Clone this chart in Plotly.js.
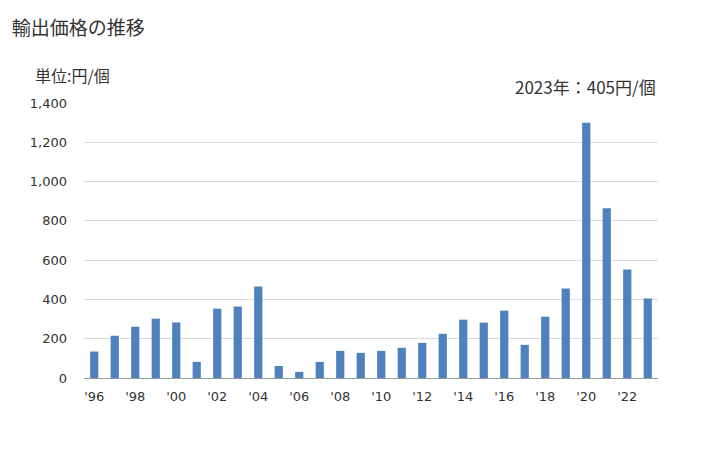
<!DOCTYPE html>
<html>
<head>
<meta charset="utf-8">
<script src="https://cdn.plot.ly/plotly-3.0.1.min.js"></script>
<style>body{margin:0;padding:0;background:#fff}#chart{width:728px;height:450px}</style>
</head>
<body>
<div id="chart"></div>
<script>
const years = ["1996","1997","1998","1999","2000","2001","2002","2003","2004","2005","2006","2007","2008","2009","2010","2011","2012","2013","2014","2015","2016","2017","2018","2019","2020","2021","2022","2023"];
const values = [135,215,261,302,283,82,353,364,466,61,31,82,138,128,138,154,179,225,297,282,343,169,312,456,1299,864,552,405];
const tickYears = ["1996","1998","2000","2002","2004","2006","2008","2010","2012","2014","2016","2018","2020","2022"];
const tickLabels = ["'96","'98","'00","'02","'04","'06","'08","'10","'12","'14","'16","'18","'20","'22"];
const yTicks = [0,200,400,600,800,1000,1200,1400];
const yTickLabels = ["0","200","400","600","800","1,000","1,200","1,400"];

const font = "'Noto Sans CJK JP', 'Noto Sans', sans-serif";
const numFont = "'DejaVu Sans', 'Noto Sans', sans-serif";
Plotly.newPlot('chart', [{
  type: 'bar', x: years, y: values,
  marker: {color: '#4f81bd'}, hoverinfo: 'skip'
}], {
  width: 728, height: 450,
  margin: {l: 84, r: 70, t: 103, b: 72},
  paper_bgcolor: '#fff', plot_bgcolor: '#fff',
  bargap: 0.6,
  showlegend: false,
  font: {family: font, color: '#333', size: 13},
  title: {text: '輸出価格の推移', x: 0.016, xanchor: 'left', y: 0.938, yanchor: 'middle', font: {size: 19, color: '#333', family: font}},
  xaxis: {type: 'category', tickvals: tickYears, ticktext: tickLabels, showgrid: false,
    showline: true, linecolor: '#999', linewidth: 1, ticks: '', ticklabelstandoff: 6, tickfont: {size: 13, color: '#333', family: numFont}},
  yaxis: {range: [0, 1400], tickvals: yTicks, ticktext: yTickLabels, showgrid: true, gridcolor: '#d9d9d9',
    zeroline: false, showline: false, ticks: '', ticklabelstandoff: 16, tickfont: {size: 13, color: '#333', family: numFont}},
  annotations: [
    {text: '単位:円/個', xref: 'paper', yref: 'paper', x: -0.088, y: 1.0, xanchor: 'left', yanchor: 'bottom', yshift: 14, showarrow: false, font: {size: 16, color: '#333', family: font}},
    {text: '2023年：405円/個', xref: 'paper', yref: 'paper', x: 1.0, y: 1.0, xanchor: 'right', yanchor: 'bottom', yshift: 2, showarrow: false, font: {size: 17, color: '#333', family: font}}
  ]
}, {displayModeBar: false, staticPlot: true});
</script>
</body>
</html>
